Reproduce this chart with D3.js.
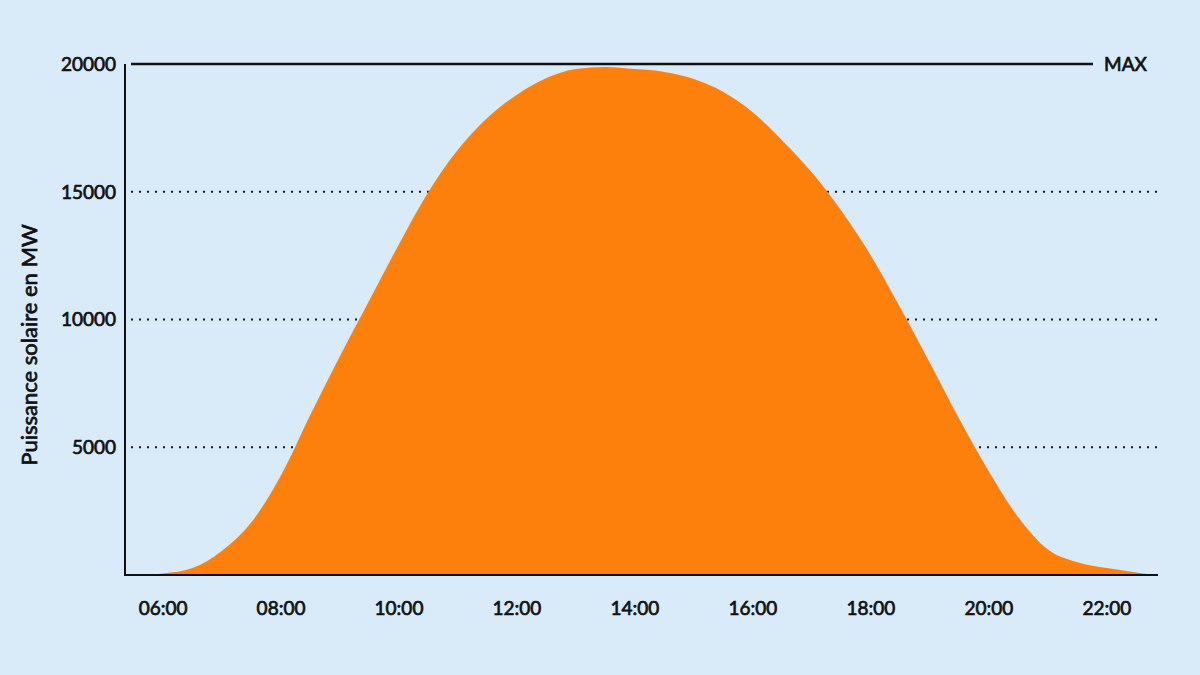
<!DOCTYPE html>
<html>
<head>
<meta charset="utf-8">
<script src="https://cdn.jsdelivr.net/npm/d3@7"></script>
<style>
    html, body { margin: 0; padding: 0; background: #d9eaf9; }
    svg { display: block; font-family: Lato, "Open Sans", sans-serif; }
    .tickLabel { font-size: 19px; font-weight: 400; fill: #111; stroke: #111; stroke-width: 0.7px; }
</style>
</head>
<body>
<svg id="chart" width="1200" height="675"></svg>
<script>
/*
 *** Data: solar power (MW) by hour of day
 */
var hours = [5.5, 6, 6.5, 7, 7.5, 8, 8.5, 9, 9.5, 10, 10.5, 11, 11.5, 12, 12.5, 13, 13.5, 14,
             14.5, 15, 15.5, 16, 16.5, 17, 17.5, 18, 18.5, 19, 19.5, 20, 20.5, 21, 21.5, 22, 22.5, 22.8];
var power = [0, 60, 270, 950, 2070, 3900, 6280, 8570, 10760, 12950, 15000, 16650, 17900, 18800, 19450, 19800, 19880, 19800,
             19690, 19410, 18900, 18100, 17000, 15750, 14250, 12500, 10450, 8300, 6100, 4050, 2250, 1000, 500, 270, 100, 0];

var yTicks = [5000, 10000, 15000];
var xTicks = [6, 8, 10, 12, 14, 16, 18, 20, 22];
var maxValue = 20000;
var maxLabel = "MAX";
var yTitle = "Puissance solaire en MW";

var svg = d3.select("#chart");

var xScale = d3.scaleLinear().domain([5.355, 22.866]).range([125, 1158]);
var yScale = d3.scaleLinear().domain([0, maxValue]).range([575, 64]);

var series = hours.map(function(h, i){ return {h: h, v: power[i]}; });

// background
svg.append("rect").attr("width", 1200).attr("height", 675).attr("fill", "#d9eaf9");

// dotted grid lines
svg.selectAll(".grid")
    .data(yTicks)
    .enter().append("line")
    .attr("class", "grid")
    .attr("x1", 131).attr("x2", 1158)
    .attr("y1", function(d){ return yScale(d); })
    .attr("y2", function(d){ return yScale(d); })
    .attr("stroke", "#1a1a1a")
    .attr("stroke-width", 2)
    .attr("stroke-dasharray", "2,6");

// the orange area
var area = d3.area()
    .x(function(d){ return xScale(d.h); })
    .y0(yScale(0))
    .y1(function(d){ return yScale(d.v); })
    .curve(d3.curveMonotoneX);

svg.append("path")
    .datum(series)
    .attr("d", area)
    .attr("fill", "#fd7f0c");

// MAX line
svg.append("line")
    .attr("x1", 131).attr("x2", 1093)
    .attr("y1", yScale(maxValue)).attr("y2", yScale(maxValue))
    .attr("stroke", "#111").attr("stroke-width", 2.5);

svg.append("text")
    .attr("x", 1104).attr("y", yScale(maxValue))
    .attr("dy", "0.36em")
    .attr("class", "tickLabel")
    .text(maxLabel);

// axes lines
svg.append("line")
    .attr("x1", 125).attr("x2", 125)
    .attr("y1", yScale(maxValue)).attr("y2", yScale(0) + 1)
    .attr("stroke", "#111").attr("stroke-width", 2);

svg.append("line")
    .attr("x1", 124).attr("x2", 1158)
    .attr("y1", yScale(0)).attr("y2", yScale(0))
    .attr("stroke", "#111").attr("stroke-width", 2);

// y tick labels
svg.selectAll(".yLabel")
    .data(yTicks.concat([maxValue]))
    .enter().append("text")
    .attr("class", "tickLabel yLabel")
    .attr("x", 116)
    .attr("y", function(d){ return yScale(d); })
    .attr("dy", "0.36em")
    .attr("text-anchor", "end")
    .text(function(d){ return d; });

// x tick labels
var pad = d3.format("02d");
svg.selectAll(".xLabel")
    .data(xTicks)
    .enter().append("text")
    .attr("class", "tickLabel xLabel")
    .attr("x", function(d){ return xScale(d); })
    .attr("y", 608)
    .attr("dy", "0.36em")
    .attr("text-anchor", "middle")
    .text(function(d){ return pad(d) + ":00"; });

// y axis title
svg.append("text")
    .attr("transform", "translate(29,345) rotate(-90)")
    .attr("dy", "0.36em")
    .attr("text-anchor", "middle")
    .attr("class", "tickLabel")
    .style("font-size", "22px")
    .text(yTitle);
</script>
</body>
</html>
